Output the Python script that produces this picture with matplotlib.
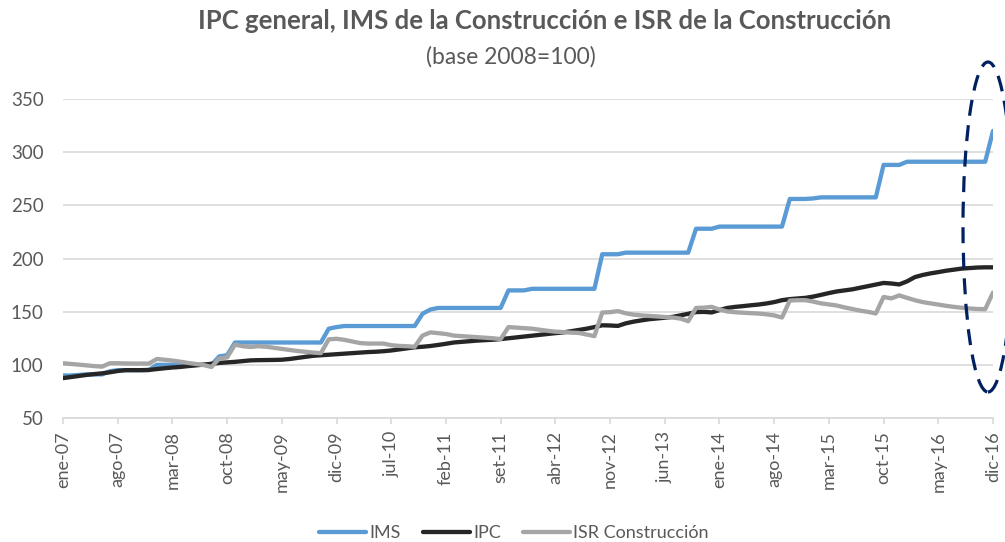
import matplotlib
matplotlib.use("Agg")
import matplotlib.pyplot as plt
from matplotlib.patches import Ellipse

plt.rcParams['font.family'] = ['Lato', 'DejaVu Sans']

# meses ene-07 .. dic-16 (indice 0..119)
ims = [90, 90, 90.5, 91, 91, 91, 94, 95, 95, 95, 95, 95,
       100, 100, 100, 100, 100, 100, 100, 100, 108, 109, 121, 121,
       121, 121, 121, 121, 121, 121, 121, 121, 121, 121, 134, 135.5,
       136.5, 136.5, 136.5, 136.5, 136.5, 136.5, 136.5, 136.5, 136.5, 136.5, 148, 152,
       153.5, 153.5, 153.5, 153.5, 153.5, 153.5, 153.5, 153.5, 153.5, 170, 170, 170,
       171.5, 171.5, 171.5, 171.5, 171.5, 171.5, 171.5, 171.5, 171.5, 204, 204, 204,
       205.5, 205.5, 205.5, 205.5, 205.5, 205.5, 205.5, 205.5, 205.5, 228, 228, 228,
       230, 230, 230, 230, 230, 230, 230, 230, 230, 256, 256, 256,
       256.5, 257.5, 257.5, 257.5, 257.5, 257.5, 257.5, 257.5, 257.5, 288, 288, 288,
       291, 291, 291, 291, 291, 291, 291, 291, 291, 291, 291, 320]

ipc = [87.5, 88.5, 89.5, 90.5, 91.3, 92.0, 93.0, 94.2, 95.0, 95.0, 95.0, 95.2,
       96.0, 96.8, 97.5, 98.0, 98.8, 99.5, 100.2, 101.0, 101.8, 102.3, 102.8, 103.5,
       104.2, 104.4, 104.5, 104.6, 104.8, 105.5, 106.5, 107.5, 108.5, 109.0, 109.5, 110.0,
       110.5, 111.0, 111.5, 112.0, 112.3, 112.8, 113.5, 114.5, 115.5, 116.5, 117.0, 117.7,
       118.7, 119.8, 121.0, 121.6, 122.2, 122.8, 123.2, 123.6, 124.2, 125.0, 125.8, 126.6,
       127.4, 128.2, 129.0, 129.8, 130.5, 131.6, 132.8, 134.0, 135.5, 137.2, 137.0, 136.6,
       139.0, 140.6, 141.8, 142.9, 143.6, 144.3, 145.1, 146.5, 148.0, 149.6, 149.8, 149.3,
       151.5, 153.5, 154.5, 155.2, 156.0, 156.7, 157.7, 159.0, 160.8, 161.8, 162.4, 163.0,
       164.2, 165.8, 167.5, 169.0, 170.0, 171.0, 172.5, 174.0, 175.5, 177.0, 176.5, 175.6,
       178.5, 182.5, 184.5, 186.0, 187.2, 188.5, 189.5, 190.5, 191.0, 191.5, 191.7, 191.7]

isr = [101.5, 100.8, 100.2, 99.5, 98.8, 98.3, 101.5, 101.5, 101.3, 101.2, 101.2, 101.2,
       105.5, 104.8, 104.0, 103.0, 101.8, 100.8, 99.8, 98.0, 106.0, 107.0, 119.0, 117.5,
       116.8, 117.5, 117.0, 116.0, 115.0, 114.0, 113.0, 112.3, 111.5, 111.0, 124.0, 124.5,
       123.5, 122.0, 120.5, 120.0, 120.0, 120.0, 118.5, 117.8, 117.5, 117.0, 127.5, 130.5,
       129.8, 129.0, 127.5, 127.0, 126.5, 126.0, 125.5, 125.0, 124.2, 135.5, 135.0, 134.5,
       134.0, 133.0, 132.0, 131.2, 130.8, 130.3, 130.0, 128.5, 127.0, 149.2, 149.5, 150.5,
       148.5, 147.2, 146.5, 146.0, 145.5, 145.0, 144.5, 143.5, 141.0, 153.5, 153.8, 154.5,
       152.0, 150.2, 149.5, 149.0, 148.6, 148.2, 147.5, 146.5, 144.5, 160.5, 160.8, 160.8,
       159.5, 157.8, 156.8, 155.8, 154.0, 152.5, 151.0, 149.8, 148.3, 163.8, 162.5, 165.3,
       163.0, 160.8, 159.0, 157.8, 156.7, 155.5, 154.5, 153.7, 153.0, 152.5, 152.3, 168.0]

tick_labels = ["ene-07", "ago-07", "mar-08", "oct-08", "may-09", "dic-09", "jul-10",
               "feb-11", "set-11", "abr-12", "nov-12", "jun-13", "ene-14", "ago-14",
               "mar-15", "oct-15", "may-16", "dic-16"]
y_ticks = [50, 100, 150, 200, 250, 300, 350]

TXT = "#595959"
GRID = "#D9D9D9"

fig = plt.figure(figsize=(10.05, 5.42), dpi=100)
ax = fig.add_axes([63 / 1005, 1 - 418 / 542, 930 / 1005, 319 / 542])

meses = range(len(ims))
ax.plot(meses, ims, color="#5B9BD5", lw=3.1, label="IMS", solid_capstyle="round")
ax.plot(meses, ipc, color="#262626", lw=3.1, label="IPC", solid_capstyle="round")
ax.plot(meses, isr, color="#A5A5A5", lw=3.1, label="ISR Construcción", solid_capstyle="round")

ax.set_xlim(0, 119)
ax.set_ylim(50, 350)
ax.set_yticks(y_ticks)
ax.set_xticks(range(0, 120, 7))
ax.set_xticklabels(tick_labels, rotation=90)
ax.grid(axis="y", color=GRID, lw=1.2)
ax.set_axisbelow(True)
for s in ["left", "right", "top"]:
    ax.spines[s].set_visible(False)
ax.spines["bottom"].set_color(GRID)
ax.spines["bottom"].set_linewidth(1.2)
ax.tick_params(axis="y", length=0, pad=14, labelsize=13.5, labelcolor=TXT)
ax.tick_params(axis="x", length=4.5, width=1.2, color=GRID, pad=5,
               labelsize=13, labelcolor=TXT)

fig.text(545 / 1005, 1 - 21 / 542,
         "IPC general, IMS de la Construcción e ISR de la Construcción",
         ha="center", va="center", fontsize=18.5, fontweight="bold", color=TXT)
fig.text(511 / 1005, 1 - 57 / 542, "(base 2008=100)",
         ha="center", va="center", fontsize=16.5, color=TXT)

# ovalo punteado sobre el ultimo tramo
ov = Ellipse((988 / 1005, 1 - 227 / 542), 50 / 1005, 330 / 542,
             transform=fig.transFigure, fill=False, edgecolor="#002060",
             lw=2.3, linestyle=(0, (5, 3)), clip_on=False)
fig.patches.append(ov)

fig.legend(loc="center", bbox_to_anchor=(514 / 1005, 1 - 533 / 542), ncol=3,
           frameon=False, fontsize=13, handlelength=2.6, handletextpad=0.2,
           columnspacing=1.2, labelcolor=TXT)

fig.savefig("out.png", dpi=100)
